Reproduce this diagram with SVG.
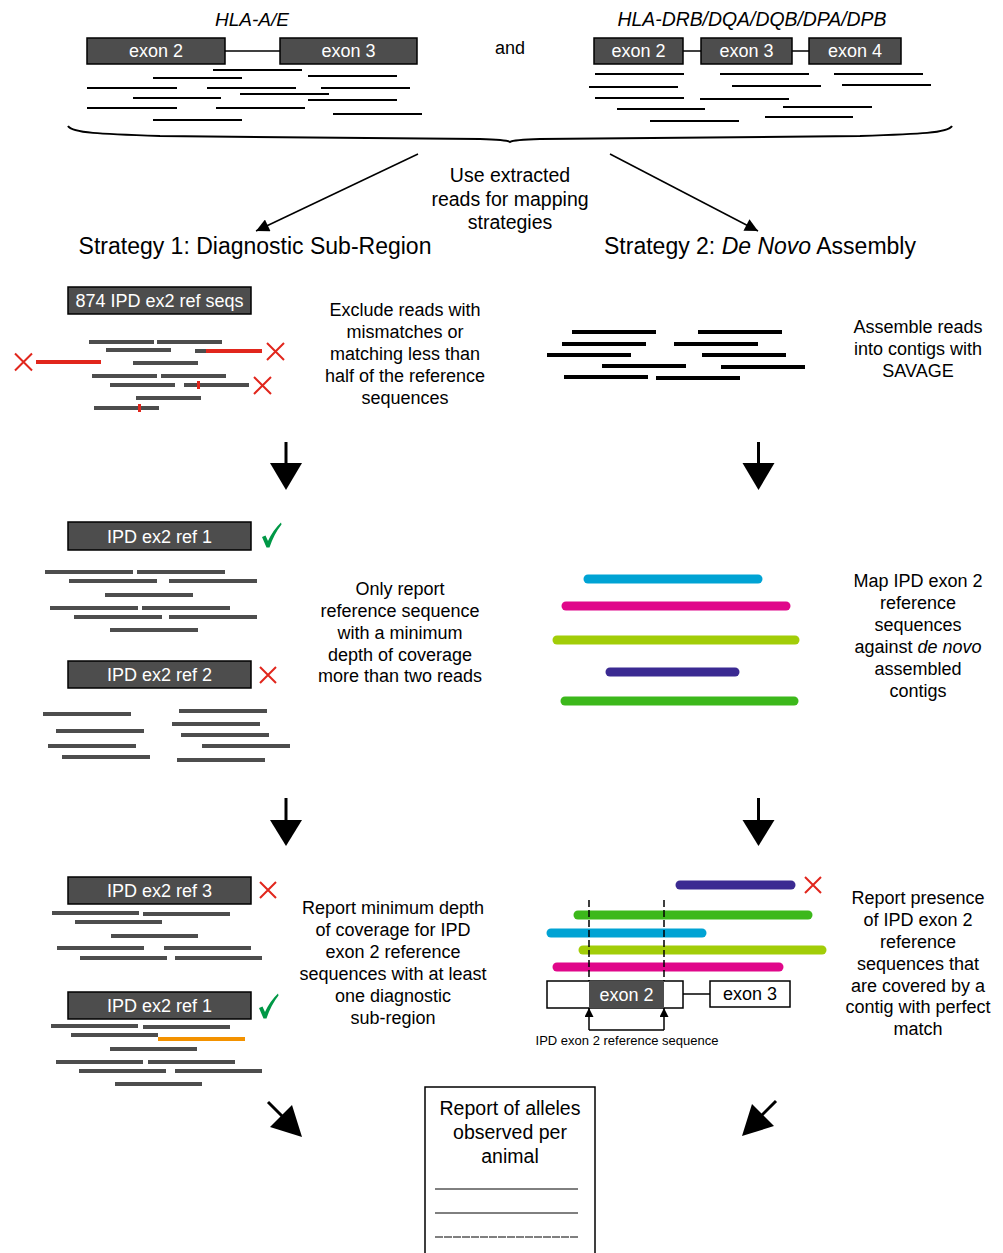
<svg xmlns="http://www.w3.org/2000/svg" width="1003" height="1253" viewBox="0 0 1003 1253">
<style>
text{font-family:"Liberation Sans",Arial,sans-serif;fill:#000}
.t18{font-size:18px;text-anchor:middle}
.t19{font-size:19.5px;text-anchor:middle}
.h{font-size:23px;text-anchor:middle}
.lbl{font-size:18px;text-anchor:middle;fill:#fff}
.dbox{fill:#4d4d4d;stroke:#000;stroke-width:1.5}
.wbox{fill:#fff;stroke:#000;stroke-width:1.5}
.rd{stroke:#000;stroke-width:2}
.gr{stroke:#4d4d4d;stroke-width:4}
.bk{stroke:#000;stroke-width:4}
.red{stroke:#e1261c;stroke-width:4}
.x{stroke:#e1261c;stroke-width:2;fill:none}
.bar{stroke-width:9;stroke-linecap:round}
.ln{stroke:#000;stroke-width:1.5;fill:none}
</style>
<defs>
<marker id="ah" viewBox="0 0 10 10" refX="10" refY="5" markerWidth="14" markerHeight="13" markerUnits="userSpaceOnUse" orient="auto"><path d="M0,0 L10,5 L0,10 Z" fill="#000"/></marker>
<marker id="ahs" viewBox="0 0 10 10" refX="10" refY="5" markerWidth="9" markerHeight="9" markerUnits="userSpaceOnUse" orient="auto"><path d="M0,0 L10,5 L0,10 Z" fill="#000"/></marker>
<path id="chk" d="M262,537 L265.5,535.5 L268,541 Q273,530 281,522.5 L281.5,524.5 Q274,534 269.5,547.5 L266.5,547.5 Z" fill="#009846"/>
</defs>

<g id="top-left">
<text x="252" y="26" font-size="19" font-style="italic" text-anchor="middle">HLA-A/E</text>
<line class="ln" x1="225" y1="51" x2="280" y2="51"/>
<rect class="dbox" x="87" y="38" width="138" height="26"/>
<rect class="dbox" x="280" y="38" width="137" height="26"/>
<text class="lbl" x="156" y="57">exon 2</text>
<text class="lbl" x="348.5" y="57">exon 3</text>
<g class="rd">
<line x1="213" y1="70" x2="302" y2="70"/>
<line x1="153" y1="78" x2="242" y2="78"/>
<line x1="308" y1="76" x2="397" y2="76"/>
<line x1="87" y1="88" x2="177" y2="88"/>
<line x1="207" y1="88" x2="296" y2="88"/>
<line x1="321" y1="88" x2="410" y2="88"/>
<line x1="133" y1="98" x2="221" y2="98"/>
<line x1="240" y1="94" x2="329" y2="94"/>
<line x1="308" y1="100" x2="397" y2="100"/>
<line x1="87" y1="108" x2="177" y2="108"/>
<line x1="216" y1="108" x2="305" y2="108"/>
<line x1="333" y1="114" x2="422" y2="114"/>
<line x1="153" y1="120" x2="242" y2="120"/>
</g>
</g>

<text x="510" y="54" class="t18">and</text>

<g id="top-right">
<text x="752" y="26" font-size="19.4" font-style="italic" text-anchor="middle">HLA-DRB/DQA/DQB/DPA/DPB</text>
<line class="ln" x1="683" y1="51" x2="701" y2="51"/>
<line class="ln" x1="792" y1="51" x2="809" y2="51"/>
<rect class="dbox" x="594" y="38" width="89" height="26"/>
<rect class="dbox" x="701" y="38" width="91" height="26"/>
<rect class="dbox" x="809" y="38" width="92" height="26"/>
<text class="lbl" x="638.5" y="57">exon 2</text>
<text class="lbl" x="746.5" y="57">exon 3</text>
<text class="lbl" x="855" y="57">exon 4</text>
<g class="rd">
<line x1="595" y1="74" x2="684" y2="74"/>
<line x1="720" y1="74" x2="809" y2="74"/>
<line x1="834" y1="74" x2="923" y2="74"/>
<line x1="589" y1="87" x2="678" y2="87"/>
<line x1="732" y1="86" x2="821" y2="86"/>
<line x1="842" y1="85" x2="931" y2="85"/>
<line x1="595" y1="98" x2="684" y2="98"/>
<line x1="700" y1="99" x2="789" y2="99"/>
<line x1="617" y1="109" x2="705" y2="109"/>
<line x1="783" y1="107" x2="872" y2="107"/>
<line x1="650" y1="121" x2="739" y2="121"/>
<line x1="765" y1="117" x2="853" y2="117"/>
</g>
</g>

<g id="brace">
<path d="M68,126 C72,133 100,134 160,136 L480,139 C500,139.5 507,140 510,142 C513,140 520,139.5 540,139 L860,136 C920,134 948,133 952,126" fill="none" stroke="#000" stroke-width="2"/>
</g>

<g id="use-text">
<text class="t19" x="510" y="182">Use extracted</text>
<text class="t19" x="510" y="206">reads for mapping</text>
<text class="t19" x="510" y="229">strategies</text>
</g>

<g id="headings">
<text class="h" x="255" y="254">Strategy 1: Diagnostic Sub-Region</text>
<text class="h" x="760" y="254">Strategy 2: <tspan font-style="italic">De Novo</tspan> Assembly</text>
</g>

<g id="s1-step1">
<rect class="dbox" x="68" y="287" width="183" height="27"/>
<text class="lbl" x="159.5" y="307">874 IPD ex2 ref seqs</text>
<g class="gr">
<line x1="89" y1="342" x2="154" y2="342"/>
<line x1="157" y1="342" x2="222" y2="342"/>
<line x1="106" y1="350" x2="171" y2="350"/>
<line x1="195" y1="351" x2="207" y2="351"/>
<line x1="133" y1="363" x2="198" y2="363"/>
<line x1="92" y1="376" x2="157" y2="376"/>
<line x1="161" y1="376" x2="226" y2="376"/>
<line x1="110" y1="385" x2="175" y2="385"/>
<line x1="184" y1="385" x2="249" y2="385"/>
<line x1="136" y1="398" x2="201" y2="398"/>
<line x1="94" y1="408" x2="159" y2="408"/>
</g>
<line class="red" x1="206" y1="351" x2="262" y2="351"/>
<line class="red" x1="36" y1="362" x2="101" y2="362"/>
<rect x="197" y="381" width="3" height="8" fill="#e1261c"/>
<rect x="138" y="404" width="3" height="8" fill="#e1261c"/>
<path class="x" d="M15,353.5 L32,370.5 M32,353.5 L15,370.5"/>
<path class="x" d="M267,343 L284,360 M284,343 L267,360"/>
<path class="x" d="M254,377 L271,394 M271,377 L254,394"/>
<text class="t18" x="405" y="316">Exclude reads with</text>
<text class="t18" x="405" y="338">mismatches or</text>
<text class="t18" x="405" y="360">matching less than</text>
<text class="t18" x="405" y="382">half of the reference</text>
<text class="t18" x="405" y="404">sequences</text>
</g>

<g id="s2-step1">
<g class="bk">
<line x1="572" y1="332" x2="656" y2="332"/>
<line x1="698" y1="332" x2="782" y2="332"/>
<line x1="562" y1="344" x2="646" y2="344"/>
<line x1="674" y1="344" x2="758" y2="344"/>
<line x1="547" y1="355" x2="631" y2="355"/>
<line x1="702" y1="355" x2="786" y2="355"/>
<line x1="602" y1="366" x2="686" y2="366"/>
<line x1="721" y1="367" x2="805" y2="367"/>
<line x1="564" y1="377" x2="648" y2="377"/>
<line x1="656" y1="378" x2="740" y2="378"/>
</g>
<text class="t18" x="918" y="333">Assemble reads</text>
<text class="t18" x="918" y="355">into contigs with</text>
<text class="t18" x="918" y="377">SAVAGE</text>
</g>

<g id="s1-step2">
<rect class="dbox" x="68" y="522" width="183" height="28"/>
<text class="lbl" x="159.5" y="543">IPD ex2 ref 1</text>
<use href="#chk"/>
<g class="gr">
<line x1="45" y1="572" x2="133" y2="572"/>
<line x1="137" y1="572" x2="225" y2="572"/>
<line x1="69" y1="581" x2="157" y2="581"/>
<line x1="169" y1="581" x2="257" y2="581"/>
<line x1="105" y1="595" x2="193" y2="595"/>
<line x1="50" y1="608" x2="138" y2="608"/>
<line x1="142" y1="608" x2="230" y2="608"/>
<line x1="74" y1="617" x2="162" y2="617"/>
<line x1="169" y1="617" x2="257" y2="617"/>
<line x1="110" y1="630" x2="198" y2="630"/>
</g>
<rect class="dbox" x="68" y="661" width="183" height="27"/>
<text class="lbl" x="159.5" y="681">IPD ex2 ref 2</text>
<path class="x" d="M260,667 L276,683 M276,667 L260,683"/>
<g class="gr">
<line x1="43" y1="714" x2="131" y2="714"/>
<line x1="179" y1="711" x2="267" y2="711"/>
<line x1="172" y1="724" x2="260" y2="724"/>
<line x1="56" y1="731" x2="144" y2="731"/>
<line x1="181" y1="735" x2="269" y2="735"/>
<line x1="48" y1="746" x2="136" y2="746"/>
<line x1="202" y1="746" x2="290" y2="746"/>
<line x1="62" y1="757" x2="150" y2="757"/>
<line x1="177" y1="760" x2="265" y2="760"/>
</g>
<text class="t18" x="400" y="595">Only report</text>
<text class="t18" x="400" y="617">reference sequence</text>
<text class="t18" x="400" y="639">with a minimum</text>
<text class="t18" x="400" y="661">depth of coverage</text>
<text class="t18" x="400" y="682">more than two reads</text>
</g>

<g id="s2-step2">
<line class="bar" stroke="#00a3d4" x1="588" y1="579" x2="758" y2="579"/>
<line class="bar" stroke="#e0078a" x1="566" y1="606" x2="786" y2="606"/>
<line class="bar" stroke="#a2cd08" x1="557" y1="640" x2="795" y2="640"/>
<line class="bar" stroke="#3b2a92" x1="610" y1="672" x2="735" y2="672"/>
<line class="bar" stroke="#3cb81b" x1="565" y1="701" x2="794" y2="701"/>
<text class="t18" x="918" y="587">Map IPD exon 2</text>
<text class="t18" x="918" y="609">reference</text>
<text class="t18" x="918" y="631">sequences</text>
<text class="t18" x="918" y="653">against <tspan font-style="italic">de novo</tspan></text>
<text class="t18" x="918" y="675">assembled</text>
<text class="t18" x="918" y="697">contigs</text>
</g>

<g id="s1-step3">
<rect class="dbox" x="68" y="877" width="183" height="27"/>
<text class="lbl" x="159.5" y="897">IPD ex2 ref 3</text>
<path class="x" d="M260,882 L276,898 M276,882 L260,898"/>
<g class="gr">
<line x1="52" y1="913" x2="139" y2="913"/>
<line x1="143" y1="914" x2="230" y2="914"/>
<line x1="75" y1="922" x2="162" y2="922"/>
<line x1="111" y1="936" x2="198" y2="936"/>
<line x1="57" y1="948" x2="144" y2="948"/>
<line x1="164" y1="948" x2="251" y2="948"/>
<line x1="80" y1="958" x2="167" y2="958"/>
<line x1="175" y1="958" x2="262" y2="958"/>
</g>
<rect class="dbox" x="68" y="992" width="183" height="27"/>
<text class="lbl" x="159.5" y="1012">IPD ex2 ref 1</text>
<use href="#chk" transform="translate(-3,471)"/>
<g class="gr">
<line x1="51" y1="1026" x2="138" y2="1026"/>
<line x1="143" y1="1027" x2="230" y2="1027"/>
<line x1="71" y1="1035" x2="158" y2="1035"/>
<line x1="110" y1="1049" x2="197" y2="1049"/>
<line x1="56" y1="1062" x2="143" y2="1062"/>
<line x1="148" y1="1062" x2="235" y2="1062"/>
<line x1="79" y1="1071" x2="166" y2="1071"/>
<line x1="175" y1="1071" x2="262" y2="1071"/>
<line x1="115" y1="1084" x2="202" y2="1084"/>
</g>
<line stroke="#f39200" stroke-width="4" x1="158" y1="1039" x2="245" y2="1039"/>
<text class="t18" x="393" y="914">Report minimum depth</text>
<text class="t18" x="393" y="936">of coverage for IPD</text>
<text class="t18" x="393" y="958">exon 2 reference</text>
<text class="t18" x="393" y="980">sequences with at least</text>
<text class="t18" x="393" y="1002">one diagnostic</text>
<text class="t18" x="393" y="1024">sub-region</text>
</g>

<g id="s2-step3">
<line class="bar" stroke="#3b2a92" x1="680" y1="885" x2="791" y2="885"/>
<path class="x" d="M805,877 L821,893 M821,877 L805,893"/>
<line class="bar" stroke="#3cb81b" x1="578" y1="915" x2="808" y2="915"/>
<line class="bar" stroke="#00a3d4" x1="551" y1="933" x2="702" y2="933"/>
<line class="bar" stroke="#a2cd08" x1="583" y1="950" x2="822" y2="950"/>
<line class="bar" stroke="#e0078a" x1="557" y1="967" x2="779" y2="967"/>
<line stroke="#000" stroke-width="1.5" stroke-dasharray="7 3" x1="589" y1="900" x2="589" y2="981"/>
<line stroke="#000" stroke-width="1.5" stroke-dasharray="7 3" x1="664" y1="900" x2="664" y2="981"/>
<rect class="wbox" x="547" y="981" width="136" height="27"/>
<rect x="589" y="981" width="75" height="27" fill="#4d4d4d"/>
<text class="lbl" x="626.5" y="1001">exon 2</text>
<line class="ln" x1="683" y1="994" x2="710" y2="994"/>
<rect class="wbox" x="710" y="981" width="80" height="26"/>
<text class="t18" x="750" y="1000">exon 3</text>
<path class="ln" d="M589,1030 L664,1030"/>
<line class="ln" x1="589" y1="1030" x2="589" y2="1008" marker-end="url(#ahs)"/>
<line class="ln" x1="664" y1="1030" x2="664" y2="1008" marker-end="url(#ahs)"/>
<text x="627" y="1045" font-size="13" text-anchor="middle">IPD exon 2 reference sequence</text>
<text class="t18" x="918" y="904">Report presence</text>
<text class="t18" x="918" y="926">of IPD exon 2</text>
<text class="t18" x="918" y="948">reference</text>
<text class="t18" x="918" y="970">sequences that</text>
<text class="t18" x="918" y="992">are covered by a</text>
<text class="t18" x="918" y="1013">contig with perfect</text>
<text class="t18" x="918" y="1035">match</text>
</g>

<g id="report">
<rect x="425" y="1087" width="170" height="180" fill="#fff" stroke="#000" stroke-width="1.5"/>
<text class="t19" x="510" y="1115">Report of alleles</text>
<text class="t19" x="510" y="1139">observed per</text>
<text class="t19" x="510" y="1163">animal</text>
<line stroke="#000" stroke-width="1" x1="435" y1="1189" x2="578" y2="1189"/>
<line stroke="#000" stroke-width="1" x1="435" y1="1213" x2="578" y2="1213"/>
<line stroke="#000" stroke-width="1" stroke-dasharray="8 1" x1="435" y1="1237" x2="578" y2="1237"/>
</g>

<g id="connectors">
<line stroke="#000" stroke-width="1.5" x1="418" y1="154" x2="256" y2="231" marker-end="url(#ah)"/>
<line stroke="#000" stroke-width="1.5" x1="610" y1="154" x2="758" y2="231" marker-end="url(#ah)"/>
<line stroke="#000" stroke-width="3" x1="286" y1="442" x2="286" y2="465"/>
<path d="M270,463 L302,463 L286,490 Z"/>
<line stroke="#000" stroke-width="3" x1="758.5" y1="442" x2="758.5" y2="465"/>
<path d="M742.5,463 L774.5,463 L758.5,490 Z"/>
<line stroke="#000" stroke-width="3" x1="286" y1="798" x2="286" y2="822"/>
<path d="M270,820 L302,820 L286,846 Z"/>
<line stroke="#000" stroke-width="3" x1="758.5" y1="798" x2="758.5" y2="822"/>
<path d="M742.5,820 L774.5,820 L758.5,846 Z"/>
<line stroke="#000" stroke-width="3" x1="268" y1="1102" x2="284" y2="1118"/>
<path d="M302,1137 L270,1127 L292,1105 Z"/>
<line stroke="#000" stroke-width="3" x1="776" y1="1101" x2="760" y2="1117"/>
<path d="M742,1136 L752,1104 L774,1126 Z"/>
</g>
</svg>
